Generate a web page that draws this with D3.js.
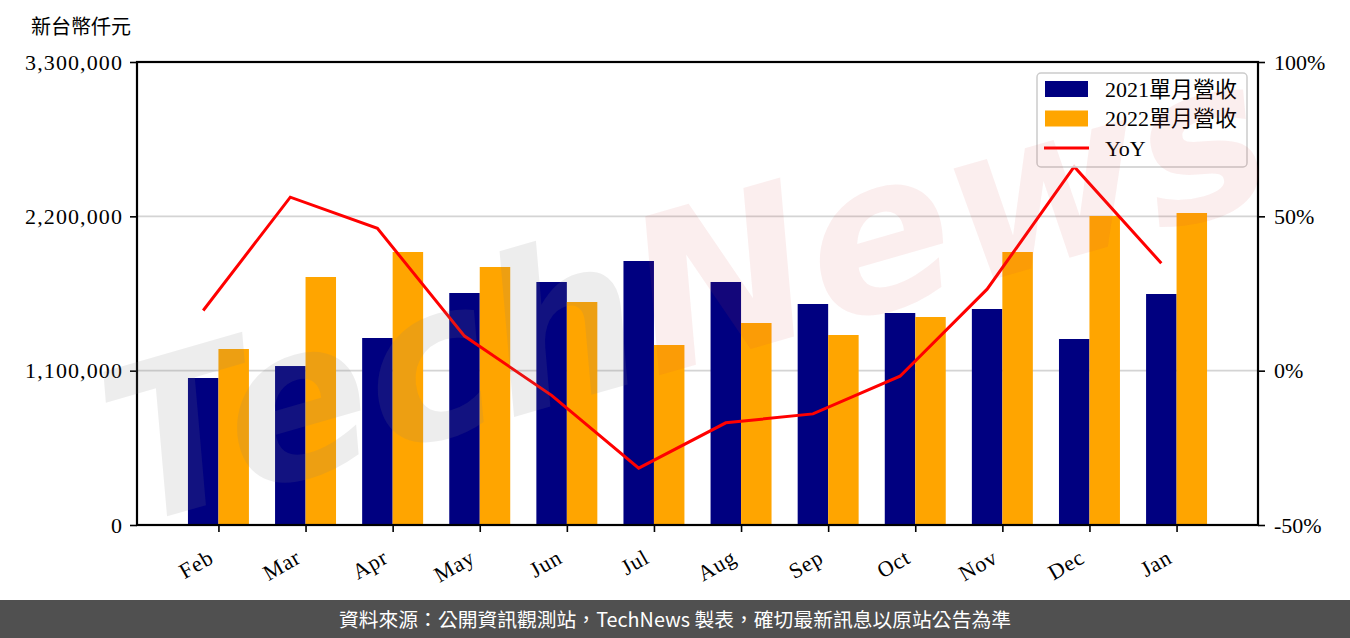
<!DOCTYPE html>
<html>
<head>
<meta charset="utf-8">
<script src="https://cdn.jsdelivr.net/npm/d3@7"></script>
<style>
  html, body { margin: 0; padding: 0; background: #fff; }
  svg { display: block; }
</style>
</head>
<body>
<script>
// ---- data ----
const months = ["Feb","Mar","Apr","May","Jun","Jul","Aug","Sep","Oct","Nov","Dec","Jan"];
const rev2021 = [1047700, 1133000, 1332800, 1653600, 1732000, 1881600, 1732000, 1575200, 1511000, 1539500, 1325700, 1646400];
const rev2022 = [1254400, 1767600, 1945800, 1838900, 1589400, 1282900, 1439700, 1354200, 1482500, 1945800, 2202400, 2223700];
const yoy = [19.5, 56.2, 46.1, 11.2, -8.0, -31.6, -16.9, -14.0, -1.8, 26.4, 66.1, 34.8];
const leftTicks = [0, 1100000, 2200000, 3300000];
const rightTicks = [-50, 0, 50, 100];
const seriesNames = ["2021單月營收", "2022單月營收", "YoY"];
const yLabel = "新台幣仟元";
const footerText = "資料來源：公開資訊觀測站，TechNews 製表，確切最新訊息以原站公告為準";

const W = 1350, H = 638;
const L = 137, R = 1258, T = 62, B = 525;
const serif = "'Liberation Serif', 'DejaVu Serif', 'Noto Sans CJK TC', serif";
const cjk = "'Liberation Serif', 'Noto Sans CJK TC', sans-serif";

const svg = d3.select("body").append("svg").attr("width", W).attr("height", H);

const x = d3.scaleLinear().domain([-0.935, 11.935]).range([L, R]);
const y = d3.scaleLinear().domain([0, 3300000]).range([B, T]);
const y2 = d3.scaleLinear().domain([-50, 100]).range([B, T]);
const bw = x(0.35) - x(0);

// gridlines
svg.append("g").selectAll("line").data(leftTicks.slice(1, 3)).join("line")
  .attr("x1", L).attr("x2", R).attr("y1", d => y(d)).attr("y2", d => y(d))
  .attr("stroke", "#d4d4d4").attr("stroke-width", 1.6);

// bars
svg.append("g").selectAll("rect").data(rev2021).join("rect")
  .attr("x", (d, i) => x(i - 0.35)).attr("width", bw)
  .attr("y", d => y(d)).attr("height", d => B - y(d)).attr("fill", "#000080");
svg.append("g").selectAll("rect").data(rev2022).join("rect")
  .attr("x", (d, i) => x(i)).attr("width", bw)
  .attr("y", d => y(d)).attr("height", d => B - y(d)).attr("fill", "#ffa500");

// YoY line
const line = d3.line().x((d, i) => x(i - 0.175)).y(d => y2(d));
svg.append("path").datum(yoy).attr("d", line)
  .attr("fill", "none").attr("stroke", "#ff0000").attr("stroke-width", 3)
  .attr("stroke-linejoin", "miter");

// axes
const fmt = d3.format(",");
const axL = svg.append("g").attr("transform", `translate(${L},0)`)
  .call(d3.axisLeft(y).tickValues(leftTicks).tickFormat(fmt).tickSize(7).tickPadding(7));
const axR = svg.append("g").attr("transform", `translate(${R},0)`)
  .call(d3.axisRight(y2).tickValues(rightTicks).tickFormat(d => d + "%").tickSize(7).tickPadding(9));
const axB = svg.append("g").attr("transform", `translate(0,${B})`)
  .call(d3.axisBottom(x).tickValues(d3.range(months.length)).tickFormat(i => months[i]).tickSize(7));
[axL, axR, axB].forEach(a => {
  a.select(".domain").remove();
  a.selectAll(".tick line").attr("stroke", "#000").attr("stroke-width", 1.6);
  a.selectAll("text").attr("font-family", serif).attr("font-size", 22).attr("fill", "#000");
});
axL.selectAll("text").attr("letter-spacing", 1.1);
axB.selectAll("text")
  .attr("x", 0).attr("y", 0)
  .attr("text-anchor", "end").attr("dy", "0.3em").attr("letter-spacing", 0.8)
  .attr("transform", "translate(-7,31) rotate(-30)");

// spines
svg.append("rect").attr("x", L).attr("y", T).attr("width", R - L).attr("height", B - T)
  .attr("fill", "none").attr("stroke", "#000").attr("stroke-width", 2.2);

// y label
svg.append("text").attr("x", 31).attr("y", 34).text(yLabel)
  .attr("font-family", "'Noto Sans CJK TC', sans-serif").attr("font-size", 20).attr("fill", "#000");

// legend
const lg = svg.append("g");
lg.append("rect").attr("x", 1037).attr("y", 73).attr("width", 210).attr("height", 94)
  .attr("rx", 4).attr("fill", "#fff").attr("fill-opacity", 0.8)
  .attr("stroke", "#cccccc").attr("stroke-width", 1.5);
const colors = ["#000080", "#ffa500", "#ff0000"];
seriesNames.forEach((name, i) => {
  const cy = 89 + i * 29.5;
  if (i < 2) {
    lg.append("rect").attr("x", 1045).attr("y", cy - 8).attr("width", 43).attr("height", 16).attr("fill", colors[i]);
  } else {
    lg.append("line").attr("x1", 1044).attr("x2", 1089).attr("y1", cy).attr("y2", cy)
      .attr("stroke", colors[i]).attr("stroke-width", 3);
  }
  lg.append("text").attr("x", 1105).attr("y", cy).attr("dy", "0.35em").text(name)
    .attr("font-family", cjk).attr("font-size", 22).attr("fill", "#000");
});

// watermark
const wm = svg.append("g").attr("transform", "translate(690,305) rotate(-16)")
  .style("pointer-events", "none");
const wt = wm.append("text").attr("text-anchor", "middle").attr("dominant-baseline", "middle")
  .attr("font-family", "'DejaVu Sans', sans-serif").attr("font-weight", "bold")
  .attr("font-style", "italic").attr("font-size", 215);
wt.append("tspan").text("Tech").attr("fill", "#808080").attr("fill-opacity", 0.14);
wt.append("tspan").text("News").attr("fill", "#d04040").attr("fill-opacity", 0.09);

// footer
svg.append("rect").attr("x", 0).attr("y", 600).attr("width", W).attr("height", 38).attr("fill", "#505050");
svg.append("text").attr("x", 675).attr("y", 620).attr("dy", "0.35em").attr("text-anchor", "middle")
  .text(footerText).attr("font-family", "'Noto Sans CJK TC', sans-serif")
  .attr("font-size", 19.8).attr("fill", "#fff");
</script>
</body>
</html>
